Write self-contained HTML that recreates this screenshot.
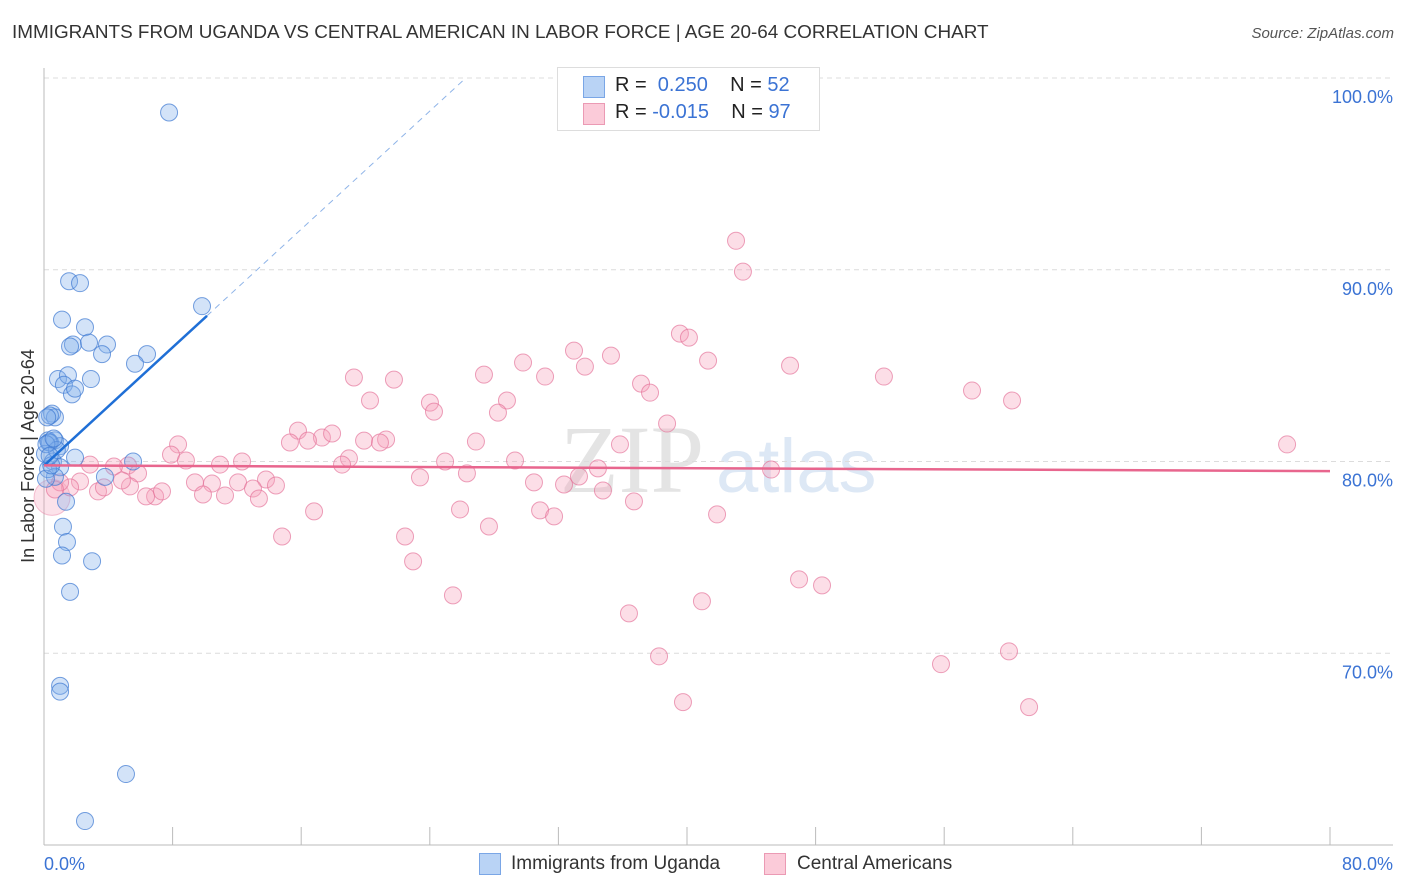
<!DOCTYPE html>
<html><head><meta charset="utf-8"><style>
body{margin:0;background:#fff;font-family:"Liberation Sans",sans-serif;}
#wrap{position:relative;width:1406px;height:892px;overflow:hidden;}
.t{position:absolute;white-space:nowrap;}
</style></head><body>
<div id="wrap">
<div class="t" style="left:12px;top:22px;font-size:18.9px;color:#333;">IMMIGRANTS FROM UGANDA VS CENTRAL AMERICAN IN LABOR FORCE | AGE 20-64 CORRELATION CHART</div>
<div class="t" style="right:12px;top:25px;font-size:15px;color:#555;font-style:italic;">Source: ZipAtlas.com</div>
<svg id="svg" width="1406" height="892" style="position:absolute;left:0;top:0"></svg>
</div>
<script>
const blueX=[7.78,1.56,2.24,1.12,2.55,1.80,1.62,2.80,3.92,3.61,6.41,5.66,9.83,0.87,1.49,2.92,1.24,1.74,1.93,0.50,0.68,0.37,0.25,0.68,1.00,0.37,0.06,1.93,0.56,5.54,1.00,3.79,0.68,1.37,1.18,1.43,1.12,2.99,1.62,1.00,1.00,5.10,2.55,0.25,0.12,0.30,0.20,0.80,0.45,0.15,0.60,0.35];
const blueY=[98.2,89.4,89.3,87.4,87.0,86.1,86.0,86.2,86.1,85.6,85.6,85.1,88.1,84.3,84.5,84.3,84.0,83.5,83.8,82.5,82.3,82.4,81.1,81.1,80.8,81.0,80.4,80.2,80.0,80.0,79.7,79.2,79.2,77.9,76.6,75.8,75.1,74.8,73.2,68.3,68.0,63.7,61.25,79.6,79.1,81.0,82.3,80.6,79.8,80.9,81.2,80.3];
const pinkX=[43.05,43.48,39.56,40.12,41.31,46.41,32.97,35.27,33.65,29.80,31.17,27.37,19.28,21.77,37.14,37.70,52.25,57.73,60.22,24.01,24.26,20.28,28.80,28.24,15.80,17.29,17.92,15.30,16.42,19.91,21.28,20.90,38.76,35.83,26.87,8.34,7.90,8.83,18.97,18.54,24.95,29.30,10.95,12.32,5.23,5.85,4.35,2.86,34.46,45.23,77.33,33.28,26.31,23.39,30.48,32.35,9.39,10.45,12.07,13.81,14.43,13.00,11.26,9.89,5.35,4.85,3.36,2.24,1.62,1.00,0.68,3.73,6.91,6.35,7.34,13.37,34.77,36.70,25.88,30.86,31.73,16.80,41.87,27.68,14.81,22.46,22.96,25.44,36.39,40.93,46.97,48.40,38.26,55.80,60.03,39.75,61.28];
const pinkY=[91.51,89.90,86.67,86.46,85.26,85.00,85.78,85.52,84.95,85.16,84.43,84.53,84.38,84.27,84.06,83.59,84.43,83.70,83.18,83.07,82.60,83.18,83.18,82.55,81.61,81.25,81.46,80.99,81.09,81.09,81.15,80.99,81.98,80.89,81.04,80.89,80.36,80.05,80.16,79.84,80.0,80.05,79.84,80.0,79.79,79.38,79.74,79.84,79.64,79.58,80.89,79.22,79.38,79.17,78.91,78.80,78.91,78.85,78.91,79.06,78.75,78.59,78.23,78.28,78.70,79.01,78.44,78.96,78.65,78.91,78.54,78.65,78.18,78.18,78.44,78.07,78.49,77.92,77.50,77.45,77.14,77.40,77.24,76.61,76.09,76.09,74.79,73.02,72.08,72.71,73.85,73.54,69.84,69.43,70.10,67.45,67.19];
const yTicks=[100,90,80,70];
const xTickLabels=["0.0%","80.0%"];
const blueTrend=[[0,79.79],[10.14,87.6]];
const pinkTrend=[[0,79.8],[80,79.5]];
const X0=44,X1=1330,Y60=845,Y100=78;
const sx=v=>X0+(v/80)*(X1-X0);
const sy=v=>Y60-(v-60)/40*(Y60-Y100);
const svg=document.getElementById('svg');
const NS='http://www.w3.org/2000/svg';
function mk(tag,attrs){const e=document.createElementNS(NS,tag);for(const k in attrs)e.setAttribute(k,attrs[k]);svg.appendChild(e);return e;}
let wm=mk('text',{x:560,y:492,'font-size':96,'font-family':'Liberation Serif,serif',fill:'#e4e4e4'});wm.textContent='ZIP';


let wm2=mk('text',{x:716,y:492,'font-size':76,'font-family':'Liberation Sans,sans-serif',fill:'#dde8f5'});wm2.textContent='atlas';


yTicks.forEach(v=>{
 const g=mk('line',{x1:X0,x2:1393,y1:sy(v),y2:sy(v),stroke:'#dcdcdc','stroke-dasharray':'5,4'});
 
 
 const t=mk('text',{x:1393,y:sy(v)+25,'text-anchor':'end','font-size':18,fill:'#3b73d4'});t.textContent=v.toFixed(1)+'%';
 
 
});
let ax=mk('line',{x1:X0,x2:X0,y1:68,y2:Y60,stroke:'#bbb'});


let bx=mk('line',{x1:X0,x2:1393,y1:Y60,y2:Y60,stroke:'#bbb'});


for(let i=0;i<=10;i++){const tk=mk('line',{x1:sx(i*8),x2:sx(i*8),y1:827,y2:Y60,stroke:'#bbb'});
 
 }
xTickLabels.forEach((l,i)=>{const t=mk('text',{x:i?1393:X0,y:870,'text-anchor':i?'end':'start','font-size':18,fill:'#3b73d4'});t.textContent=l;
 
 });
let yt=mk('text',{x:34,y:456,'text-anchor':'middle','font-size':18,fill:'#333',transform:'rotate(-90 34 456)'});yt.textContent='In Labor Force | Age 20-64';


const bigp=mk('circle',{cx:sx(0.5),cy:sy(78.13),r:18,fill:'rgba(245,160,185,0.3)',stroke:'rgba(230,110,150,0.4)'});


pinkX.forEach((x,i)=>{const c=mk('circle',{cx:sx(x),cy:sy(pinkY[i]),r:8.5,fill:'rgba(245,160,185,0.35)',stroke:'rgba(228,110,150,0.65)','stroke-width':1});
 
 });
blueX.forEach((x,i)=>{const c=mk('circle',{cx:sx(x),cy:sy(blueY[i]),r:8.5,fill:'rgba(130,175,235,0.35)',stroke:'rgba(60,120,210,0.7)','stroke-width':1});
 
 });
const sl=(blueTrend[1][1]-blueTrend[0][1])/(blueTrend[1][0]-blueTrend[0][0]);
let bd=mk('line',{x1:sx(blueTrend[1][0]),y1:sy(blueTrend[1][1]),x2:sx(blueTrend[1][0]+(100-blueTrend[1][1])/sl),y2:sy(100),stroke:'#8fb4e8','stroke-dasharray':'6,5','stroke-width':1});


let bt=mk('line',{x1:sx(blueTrend[0][0]),y1:sy(blueTrend[0][1]),x2:sx(blueTrend[1][0]),y2:sy(blueTrend[1][1]),stroke:'#1f6fd6','stroke-width':2.5});


let pt=mk('line',{x1:sx(pinkTrend[0][0]),y1:sy(pinkTrend[0][1]),x2:sx(pinkTrend[1][0]),y2:sy(pinkTrend[1][1]),stroke:'#e8668e','stroke-width':2.5});


</script>
<div class="t" style="left:557px;top:67px;width:261px;height:62px;border:1px solid #ddd;background:#fff;">
 <div style="position:absolute;left:25px;top:8px;width:20px;height:20px;background:#b9d3f5;border:1px solid #7aa6e6;"></div>
 <div style="position:absolute;left:25px;top:35px;width:20px;height:20px;background:#fbcbd9;border:1px solid #eb9ab4;"></div>
 <div style="position:absolute;left:57px;top:6px;font-size:20px;color:#222;">R = &nbsp;<span style="color:#3b73d4">0.250</span>&nbsp;&nbsp;&nbsp; N = <span style="color:#3b73d4">52</span></div>
 <div style="position:absolute;left:57px;top:33px;font-size:20px;color:#222;">R = <span style="color:#3b73d4">-0.015</span>&nbsp;&nbsp;&nbsp; N = <span style="color:#3b73d4">97</span></div>
</div>
<div class="t" style="left:479px;top:853px;width:20px;height:20px;background:#b9d3f5;border:1px solid #7aa6e6;"></div>
<div class="t" style="left:511px;top:853px;font-size:19px;color:#333;">Immigrants from Uganda</div>
<div class="t" style="left:764px;top:853px;width:20px;height:20px;background:#fbcbd9;border:1px solid #eb9ab4;"></div>
<div class="t" style="left:797px;top:853px;font-size:19px;color:#333;">Central Americans</div>
</body></html>
